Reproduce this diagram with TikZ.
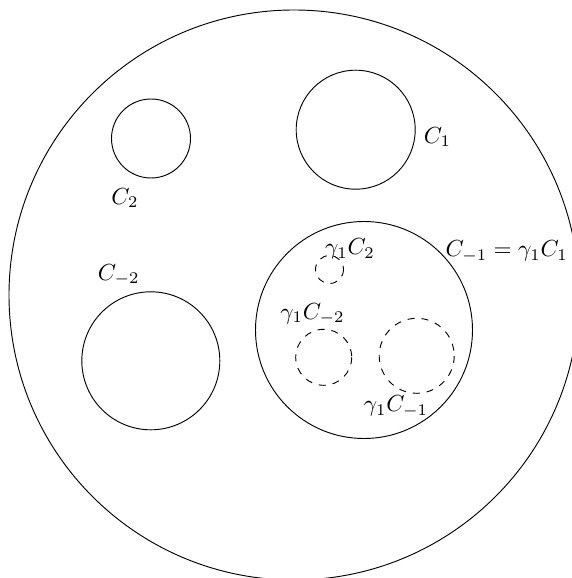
\documentclass[tikz,border=0pt]{standalone}
\usepackage{amsmath,amssymb}
\usepackage{tikz}

\begin{document}
\begin{tikzpicture}[x=0.0151cm,y=-0.0151cm,
  bound/.style={draw,thin},
  image/.style={draw,thin,dashed},
  lbl/.style={inner sep=0pt}]
  \useasboundingbox (0,0) rectangle (572,578);
  \clip (0,0) rectangle (572,578);

  % outer disc and the generating circles
  \draw[bound] (294,295)   circle[radius=285];
  \draw[bound] (151,138.5) circle[radius=39.5];
  \draw[bound] (355.7,129.7) circle[radius=59.5];
  \draw[bound] (150.8,360.8) circle[radius=69];
  \draw[bound] (364,330)   circle[radius=108.5];

  % images under gamma_1
  \draw[image] (329.5,269.5) circle[radius=14];
  \draw[image] (323.7,357.3) circle[radius=28];
  \draw[image] (416.7,355.8) circle[radius=37.5];

  \node[lbl] (lC2)   at (125,198.3)   {$C_2$};
  \node[lbl] (lC1)   at (437.5,137)   {$C_1$};
  \node[lbl] (lCm2)  at (118.8,275)   {$C_{-2}$};
  \node[lbl] (lCm1)  at (506.7,251.7) {$C_{-1}=\gamma_1C_1$};
  \node[lbl] (lgC2)  at (350,249)     {$\gamma_1C_2$};
  \node[lbl] (lgCm2) at (312.5,314)   {$\gamma_1C_{-2}$};
  \node[lbl] (lgCm1) at (396,406.7)   {$\gamma_1C_{-1}$};
\end{tikzpicture}
\end{document}
